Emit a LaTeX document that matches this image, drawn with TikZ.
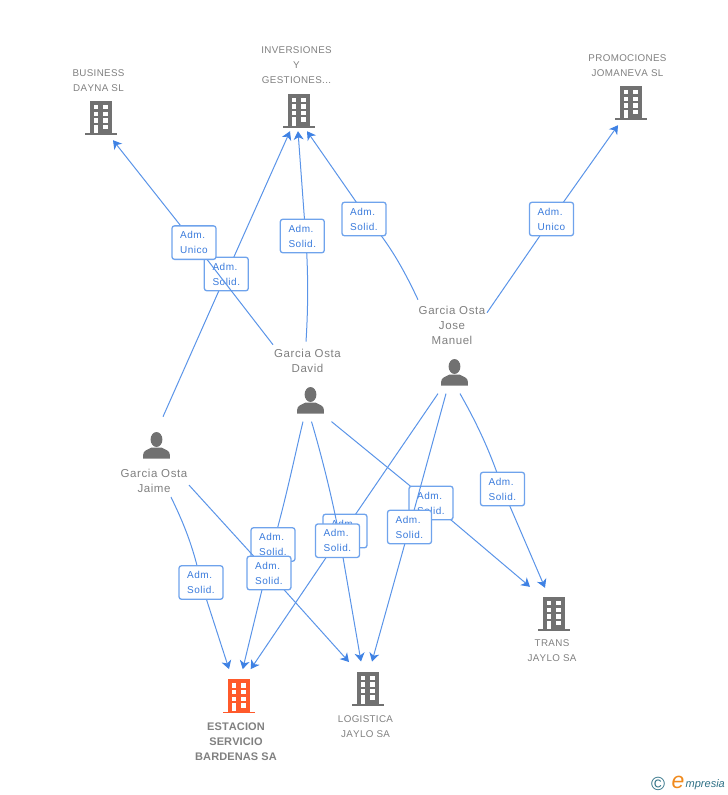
\documentclass[tikz,border=0pt]{standalone}
\usepackage{fontspec}
\setmainfont{Liberation Sans}
\newfontfamily\spfont[LetterSpace=5,Kerning=Off]{Liberation Sans}
\newfontfamily\spcomp[LetterSpace=3.5,Kerning=Off]{Liberation Sans}
\newfontfamily\spbold[LetterSpace=1,Kerning=Off]{Liberation Sans Bold}
\usetikzlibrary{arrows.meta}
\definecolor{edgeblue}{HTML}{5A94E8}
\definecolor{tipblue}{HTML}{3F82E4}
\definecolor{boxline}{HTML}{6FA3EC}
\definecolor{admtext}{HTML}{3A7BDC}
\definecolor{icongrey}{HTML}{717171}
\definecolor{labelgrey}{HTML}{808080}
\definecolor{hot}{HTML}{FF5A2B}
\definecolor{teal2}{HTML}{2E7085}
\definecolor{logoorange}{HTML}{F08A1D}
\tikzset{
  edge/.style={draw=edgeblue,line width=1pt,-{Stealth[length=8.5pt,width=10pt,inset=2.5pt,color=tipblue]}},
  adm/.style={draw=boxline,line width=1.3pt,fill=white,rounded corners=2.5pt,minimum width=44pt,minimum height=33.5pt,inner sep=0pt,align=left,text=admtext,font=\fontsize{10}{15}\spfont,execute at begin node={\rule{0pt}{9.5pt}}},
  company/.style={align=center,text=labelgrey,inner sep=0pt,font=\fontsize{9.8}{15}\spcomp},
  person/.style={align=center,text=labelgrey,inner sep=0pt,font=\fontsize{11.5}{15}\spfont},
  focus/.style={align=center,text=labelgrey,inner sep=0pt,font=\fontsize{11}{15}\spbold},
  iconbox/.style={inner sep=0pt,minimum width=32pt,minimum height=34pt},
  personbox/.style={inner sep=0pt,minimum width=27pt,minimum height=27pt}
}
% building: #1 centre x, #2 bottom y, #3 colour
\newcommand{\bldg}[3]{%
  \begin{scope}[shift={(#1,#2)}]
    \fill[#3] (-11.2,-34) rectangle (11.2,-1.7);
    \fill[#3] (-16,-1.8) rectangle (16,0);
    \foreach \yy in {-30,-23.3,-16.8} {
      \fill[white] (-7.5,\yy) rectangle (-2.6,\yy+4.4);
      \fill[white] (2.3,\yy) rectangle (7.2,\yy+4.4);
    }
    \fill[white] (-7.5,-10.3) rectangle (-2.6,-2);
    \fill[white] (2.3,-10.3) rectangle (7.2,-5.6);
  \end{scope}}
% person: #1 centre x, #2 top y
\newcommand{\persn}[2]{%
  \begin{scope}[shift={(#1,#2)}]
    \fill[icongrey] (0,7.5) ellipse (5.9 and 7.5);
    \fill[icongrey] (-13.3,26.7) -- (-13.3,22.5) .. controls (-13.3,18.5) and (-9,18) .. (-5,15.5)
      -- (5,15.5) .. controls (9,18) and (13.3,18.5) .. (13.3,22.5) -- (13.3,26.7) -- cycle;
  \end{scope}}
\begin{document}
\begin{tikzpicture}[x=1pt,y=-1pt]
\useasboundingbox (0,0) rectangle (728,795);
% icons
\bldg{101}{135}{icongrey}
\bldg{299}{127.5}{icongrey}
\bldg{631}{120}{icongrey}
\bldg{554}{631}{icongrey}
\bldg{368}{705.7}{icongrey}
\bldg{239}{713.3}{hot}
\persn{454.5}{359}
\persn{310.5}{387}
\persn{156.5}{432}
\node[iconbox] (business) at (101,118) {};
\node[iconbox] (inversiones) at (299,110.5) {};
\node[iconbox] (promociones) at (631,103) {};
\node[iconbox] (trans) at (554,614) {};
\node[iconbox] (logistica) at (368,688.7) {};
\node[iconbox] (estacion) at (239,696.3) {};
\node[personbox] (manuel) at (454.5,372.4) {};
\node[personbox] (david) at (310.5,400.4) {};
\node[personbox] (jaime) at (156.5,445.4) {};
% labels
\node[company] (lbusiness) at (98.5,80.5) {BUSINESS\\DAYNA SL};
\node[company] (linversiones) at (296.5,65) {INVERSIONES\\Y\\GESTIONES...};
\node[company] (lpromociones) at (627.5,65.5) {PROMOCIONES\\JOMANEVA SL};
\node[company] (ltrans) at (552,650.5) {TRANS\\JAYLO SA};
\node[company] (llogistica) at (365.5,726.5) {LOGISTICA\\JAYLO SA};
\node[focus] (lestacion) at (236,741.5) {ESTACION\\SERVICIO\\BARDENAS SA};
\node[person] (lmanuel) at (452,325) {Garcia Osta\\Jose\\Manuel};
\node[person] (ldavid) at (307.5,360.5) {Garcia Osta\\David};
\node[person] (ljaime) at (154,481) {Garcia Osta\\Jaime};
% box positions
\coordinate (cUnicoL) at (194,242.6);
\coordinate (cInvJ) at (226.3,274);
\coordinate (cInvD) at (302.3,236);
\coordinate (cInvM) at (364,219);
\coordinate (cUnicoR) at (551.5,219);
\coordinate (cEstJ) at (201,582.5);
\coordinate (cEstD) at (273,544.5);
\coordinate (cLogJ) at (269,573);
\coordinate (cLogD) at (345,531);
\coordinate (cEstM) at (337.5,540.7);
\coordinate (cTrD) at (431,503);
\coordinate (cLogM) at (409.5,527);
\coordinate (cTrM) at (502.5,489);
% connectors and boxes, in stacking order
\draw[edge] ([shift={(6.5,-15)}]jaime.north) -- (cInvJ) -- ([shift={(-9,3.5)}]inversiones.south);
\node[adm] (boxInvJ) at (cInvJ) {Adm.\\Solid.};
\draw[edge] ([shift={(-37.5,-42)}]david.north) -- (cUnicoL) -- ([shift={(12,5)}]business.south);
\node[adm] (boxUnicoL) at (cUnicoL) {Adm.\\Unico};
\draw[edge] ([shift={(-4.5,-45)}]david.north) .. controls (308,310) and (308.5,275) .. ([shift={(3.4,0)}]cInvD) -- ([shift={(-1,3.5)}]inversiones.south);
\node[adm] (boxInvD) at (cInvD) {Adm.\\Solid.};
\draw[edge] ([shift={(-36.5,-59)}]manuel.north) .. controls (403,268) and (390,245) .. ([shift={(4,0)}]cInvM) -- ([shift={(8,3.5)}]inversiones.south);
\node[adm] (boxInvM) at (cInvM) {Adm.\\Solid.};
\draw[edge] ([shift={(32.5,-46)}]manuel.north) -- (cUnicoR) -- ([shift={(-13,5)}]promociones.south);
\node[adm] (boxUnicoR) at (cUnicoR) {Adm.\\Unico};
\draw[edge] ([shift={(14.5,38)}]jaime.south) .. controls (183,522) and (193,545) .. (cEstJ) -- ([shift={(-10,-10)}]estacion.north);
\node[adm] (boxEstJ) at (cEstJ) {Adm.\\Solid.};
\draw[edge] ([shift={(-7.5,7.5)}]david.south) .. controls (296,450) and (287,495) .. (cEstD) -- ([shift={(3.7,-10)}]estacion.north);
\node[adm] (boxEstD) at (cEstD) {Adm.\\Solid.};
\draw[edge] ([shift={(32.5,26)}]jaime.south) -- (cLogJ) -- ([shift={(-19,-9.5)}]logistica.north);
\node[adm] (boxLogJ) at (cLogJ) {Adm.\\Solid.};
\draw[edge] ([shift={(-16.5,7.5)}]manuel.south) -- (cEstM) -- ([shift={(11.7,-10)}]estacion.north);
\node[adm] (boxLogD) at (cLogD) {Adm.\\Solid.};
\draw[edge] ([shift={(1,7.5)}]david.south) .. controls (320,450) and (333,500) .. (340,540) -- ([shift={(-7,-10)}]logistica.north);
\node[adm] (boxEstM) at (cEstM) {Adm.\\Solid.};
\draw[edge] ([shift={(21,7.5)}]david.south) -- (cTrD) -- ([shift={(-24,-10)}]trans.north);
\node[adm] (boxTrD) at (cTrD) {Adm.\\Solid.};
\draw[edge] ([shift={(-8.5,7.5)}]manuel.south) -- (cLogM) -- ([shift={(4,-10)}]logistica.north);
\node[adm] (boxLogM) at (cLogM) {Adm.\\Solid.};
\draw[edge] ([shift={(5.5,7.5)}]manuel.south) .. controls (475,420) and (490,450) .. (cTrM) -- ([shift={(-9,-9)}]trans.north);
\node[adm] (boxTrM) at (cTrM) {Adm.\\Solid.};
% logo
\node[inner sep=0pt,text=teal2,font=\fontsize{19}{19}\selectfont] (logoc) at (658,784) {©};
\node[inner sep=0pt,text=logoorange,font=\fontsize{23}{23}\selectfont\itshape] (logoe) at (678,782) {e};
\node[inner sep=0pt,text=teal2,anchor=west,font=\fontsize{11}{13}\selectfont\itshape] (logot) at (685.5,785) {mpresia};
\end{tikzpicture}
\end{document}
